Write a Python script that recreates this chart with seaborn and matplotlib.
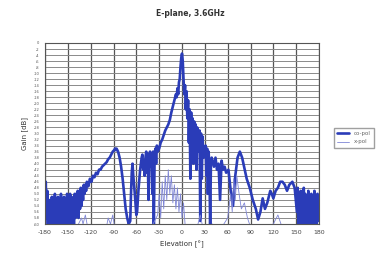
import numpy as np
import pandas as pd
import matplotlib
matplotlib.use("Agg")
import matplotlib.pyplot as plt
import seaborn as sns

sns.set_style("white")
plt.rcParams['font.family'] = ['DejaVu Sans']

# co-pol trace (angle in deg, gain in dB)
copol_angle = [
    -180, -179, -178, -177, -176, -175, -174, -173, -172, -171, -170, -169, -168, -167,
    -166, -165, -164, -163, -162, -161, -160, -159, -158, -157, -156, -155, -154, -153,
    -152, -151, -150, -149, -148, -147, -146, -145, -144, -143, -142, -141, -140, -139,
    -138, -137, -136, -135, -134, -133, -132, -131, -130, -129, -128, -127, -126,
    -125, -123, -121, -119, -117, -115, -113, -111, -109, -107, -105, -103, -101, -99,
    -97, -95, -93, -91, -89, -88, -87, -86, -84, -82, -80, -78, -76, -74, -72, -70,
    -68, -67, -66, -65, -64, -62, -60, -59, -57, -55, -53, -52, -51, -50, -49, -48,
    -47, -46, -45, -44, -43, -42, -41, -40, -39, -38, -37, -36, -35, -34, -33, -32,
    -30, -28, -26, -24, -22, -20, -18, -16, -14, -12, -10, -8, -7, -6, -5, -4, -3,
    -2, -1, 0,
    1, 2, 3, 4, 5, 6, 7, 8, 9, 10, 11, 12, 13, 14, 15, 16, 17, 18, 19,
    20, 21, 22, 23, 24, 25, 26, 27, 28, 29, 30, 31, 32, 33, 34, 35, 36, 37, 38, 39,
    40, 42, 44, 46, 48, 50, 52, 54, 56, 58,
    61, 64, 67, 70, 73, 76, 79, 82, 85, 89,
    93, 97, 100, 103, 106, 109, 112, 116, 118, 120, 123, 126, 129, 132, 135, 138,
    141, 145, 148, 151, 152, 153, 154, 155, 156, 157, 158, 159, 160, 161, 162, 163,
    164, 165, 166, 167, 168, 169, 170, 171, 172, 173, 174, 175, 176, 177, 178, 179, 180,
]
copol_gain = [
    -60, -46, -58, -49, -60, -52, -60, -55, -60, -51, -60, -53, -59, -50,
    -60, -54, -60, -51, -60, -52, -58, -50, -60, -53, -60, -51, -59, -52,
    -60, -50, -60, -51, -58, -50, -60, -51, -59, -52, -60, -50, -58, -50,
    -57, -49, -58, -50, -55, -48, -54, -49, -52, -47, -50, -47, -49,
    -46, -47.5, -45, -46, -44, -44.5, -43, -43.5, -42, -42, -41, -40.5, -40, -39.5,
    -38.5, -38, -37, -36, -35.5, -35, -35.5, -35, -36, -38, -41, -45, -50, -55, -58, -60,
    -59, -50, -43, -40, -44, -50, -57, -56, -48, -42, -38, -37, -42, -39, -44, -38,
    -36, -43, -37, -52, -38, -36, -41, -37, -50, -36, -60, -38, -35, -40, -34, -36,
    -35, -33, -32, -30.5, -29, -28, -27, -25.5, -23, -21, -19, -17, -18, -15, -17, -13, -12,
    -8, -5, -3.5,
    -6, -12, -17, -14, -22, -16, -25, -19, -33, -22, -45, -23, -35, -25, -40, -26, -31, -27, -42,
    -28, -30, -36, -29, -59, -30, -45, -31, -38, -36, -37, -34, -44, -35, -50, -36, -42, -60, -40, -38,
    -39, -41, -38, -42, -40, -52, -39, -42, -41, -43,
    -42, -49, -54, -44, -38, -36, -38, -41.5, -45, -48,
    -52, -55, -58.5, -56, -51.5, -55, -53, -49, -50, -51.5, -49, -48, -46, -46, -47, -49,
    -47, -46, -48, -56, -48, -60, -50, -58, -49, -60, -51, -57, -48, -60, -50, -59,
    -52, -60, -49, -58, -51, -60, -50, -57, -52, -60, -49, -58, -51, -60, -50, -59, -52,
]

# x-pol trace (mostly below the -60 dB floor)
xpol_angle = [
    -180, -150, -140, -132, -130, -127, -124, -118, -100, -97, -94, -91, -88, -70,
    -50, -40, -32, -30, -28, -26, -24, -22, -20, -18, -16, -14, -12, -10, -8, -6,
    -4, -2, 0, 2, 4, 8, 20, 24, 28, 40, 50, 60, 64, 66, 68, 70, 72, 75, 78, 82,
    86, 90, 100, 120, 126, 130, 140, 160, 170, 180,
]
xpol_gain = [
    -62, -63, -62, -58, -60, -57, -61, -64, -62, -58, -60, -57, -62, -63,
    -62, -61, -57, -50, -58, -46, -55, -44, -52, -42, -50, -44, -53, -47, -55, -48,
    -56, -50, -58, -53, -60, -62, -61, -57, -62, -60, -62, -58, -50, -56, -45, -52,
    -44, -50, -55, -53, -58, -61, -62, -60, -57, -60, -62, -61, -63, -62,
]

x_ticks = [-180, -150, -120, -90, -60, -30, 0, 30, 60, 90, 120, 150, 180]
y_ticks = list(range(-60, 1, 2))

co = pd.DataFrame({"Elevation": copol_angle, "Gain": copol_gain})
xp = pd.DataFrame({"Elevation": xpol_angle, "Gain": xpol_gain})

fig = plt.figure(figsize=(3.81, 2.57), dpi=100)
ax = fig.add_axes([45 / 381, 1 - 224 / 257, 274 / 381, 181 / 257])

sns.lineplot(data=co, x="Elevation", y="Gain", ax=ax, color="#2a3cb8",
             linewidth=1.9, estimator=None, label="co-pol")
sns.lineplot(data=xp, x="Elevation", y="Gain", ax=ax, color="#7f86d6",
             linewidth=0.6, estimator=None, label="x-pol")

ax.set_xlim(-180, 180)
ax.set_ylim(-60, 0)
ax.set_xticks(x_ticks)
ax.set_yticks(y_ticks)
ax.set_xticklabels([str(t) for t in x_ticks], fontsize=4.5, color="#444444")
ax.set_yticklabels([str(t) for t in y_ticks], fontsize=2.6, color="#555555")
ax.tick_params(length=0, pad=4)
ax.yaxis.grid(True, color="#8a8a8a", linewidth=0.7)
ax.xaxis.grid(True, color="#555555", linewidth=0.9)
ax.set_axisbelow(True)
for s in ax.spines.values():
    s.set_color("#555555")
    s.set_linewidth(0.8)

ax.set_xlabel("Elevation [°]", fontsize=5, color="#333333", labelpad=4)
ax.set_ylabel("Gain [dB]", fontsize=5, color="#333333", labelpad=4)
fig.text(0.5, 1 - 13 / 257, "E-plane, 3.6GHz", ha="center", va="center",
         fontsize=5.5, fontweight="bold", color="#333333")

leg = ax.legend(loc="upper left", bbox_to_anchor=(331 / 381, 1 - 125 / 257),
                bbox_transform=fig.transFigure, fontsize=4, frameon=True,
                fancybox=False, edgecolor="#888888", handlelength=2.2,
                borderpad=0.6, labelspacing=0.6)
for t in leg.get_texts():
    t.set_color("#666666")

fig.savefig("out.png", dpi=100)
